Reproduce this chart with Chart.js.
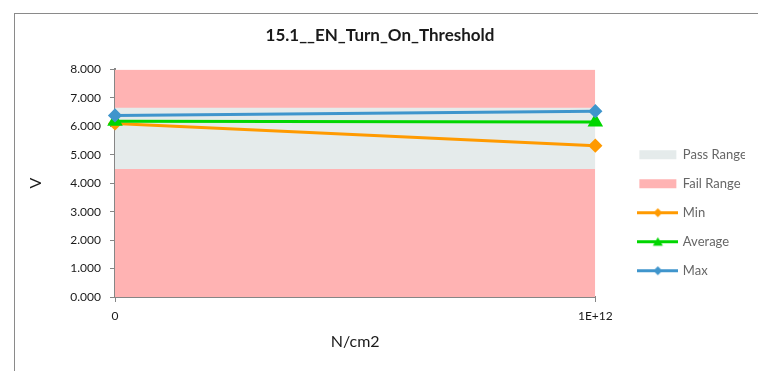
<!DOCTYPE html>
<html>
<head>
<meta charset="utf-8">
<script src="https://cdn.jsdelivr.net/npm/chart.js@4.4.1/dist/chart.umd.min.js"></script>
<style>
  body { margin: 0; background: #fff; }
  #frame { position: absolute; left: 14px; top: 13px; width: 744px; height: 358px;
           border-left: 1px solid #8a8a8a; border-top: 1px solid #8a8a8a; }
  canvas { display: block; }
</style>
</head>
<body>
<div id="frame"><canvas id="chart" width="743" height="357"></canvas></div>
<script>
// values
var xLabels = ['0', '1E+12'];
var minValues = [6.10, 5.32];
var avgValues = [6.18, 6.15];
var maxValues = [6.38, 6.53];
var passTop = [6.65, 6.65];
var passBottom = 4.5;
var failTop = [8, 8];

var passColor = '#e5ebeb';
var failColor = '#ffb3b3';
var minColor = '#ff9a00';
var avgColor = '#00d600';
var maxColor = '#3f95cc';
var font = 'Lato';

// small canvases used as legend markers
function swatch(kind, color) {
  var c = document.createElement('canvas');
  c.width = 41; c.height = 11;
  var g = c.getContext('2d');
  g.fillStyle = color;
  if (kind === 'box') {
    g.fillRect(2, 1, 37, 9);
    return c;
  }
  g.strokeStyle = color;
  g.lineWidth = 3;
  g.beginPath(); g.moveTo(0, 5.5); g.lineTo(41, 5.5); g.stroke();
  g.beginPath();
  if (kind === 'diamond') {
    g.moveTo(20.5, 1); g.lineTo(25, 5.5); g.lineTo(20.5, 10); g.lineTo(16, 5.5);
  } else {
    g.moveTo(20.5, 1); g.lineTo(25.5, 9.5); g.lineTo(15.5, 9.5);
  }
  g.closePath(); g.fill();
  return c;
}

var legendEntries = [
  { text: 'Pass Range', kind: 'box', color: passColor, ds: 3 },
  { text: 'Fail Range', kind: 'box', color: failColor, ds: 4 },
  { text: 'Min', kind: 'diamond', color: minColor, ds: 2 },
  { text: 'Average', kind: 'triangle', color: avgColor, ds: 1 },
  { text: 'Max', kind: 'diamond', color: maxColor, ds: 0 }
];

var ctx = document.getElementById('chart').getContext('2d');
var chart = new Chart(ctx, {
  type: 'line',
  data: {
    labels: xLabels,
    datasets: [
      { label: 'Max', data: maxValues, borderColor: maxColor, backgroundColor: maxColor,
        borderWidth: 3, pointStyle: 'rectRot', pointRadius: 5, fill: false, order: 1 },
      { label: 'Average', data: avgValues, borderColor: avgColor, backgroundColor: avgColor,
        borderWidth: 3, pointStyle: 'triangle', pointRadius: 6, fill: false, order: 2 },
      { label: 'Min', data: minValues, borderColor: minColor, backgroundColor: minColor,
        borderWidth: 3, pointStyle: 'rectRot', pointRadius: 5, fill: false, order: 3 },
      { label: 'Pass Range', data: passTop, backgroundColor: passColor, borderWidth: 0,
        pointRadius: 0, fill: { value: passBottom }, order: 4 },
      { label: 'Fail Range', data: failTop, backgroundColor: failColor, borderWidth: 0,
        pointRadius: 0, fill: 'origin', order: 5 }
    ]
  },
  options: {
    responsive: false,
    animation: false,
    layout: { padding: { right: 13 } },
    plugins: {
      title: {
        display: true,
        text: '15.1__EN_Turn_On_Threshold',
        color: '#1a1a1a',
        font: { family: font, size: 17, weight: 'bold' },
        padding: { top: 11, bottom: 24 }
      },
      legend: {
        position: 'right',
        onClick: null,
        // empty title, only pushes the entries down a little
        title: { display: true, text: '', font: { size: 12 }, padding: { top: 0, bottom: 26 } },
        labels: {
          usePointStyle: true,
          pointStyleWidth: 37,
          padding: 16,
          color: '#1a1a1a',
          font: { family: font, size: 13 },
          generateLabels: function () {
            return legendEntries.map(function (e) {
              return { text: e.text, pointStyle: swatch(e.kind, e.color), fillStyle: e.color,
                       strokeStyle: e.color, lineWidth: 0, hidden: false, datasetIndex: e.ds };
            });
          }
        }
      },
      tooltip: { enabled: false }
    },
    scales: {
      x: {
        type: 'category',
        offset: false,
        z: 1,
        grid: { drawOnChartArea: false, tickLength: 5, color: '#868686' },
        border: { color: '#868686', width: 2 },
        ticks: { color: '#1a1a1a', font: { family: font, size: 12 }, padding: 7, maxRotation: 0 },
        title: { display: true, text: 'N/cm2', color: '#1a1a1a', font: { family: font, size: 16 },
                 padding: { top: 4, bottom: 20 } },
        afterFit: function (s) { s.height = 74; }
      },
      y: {
        min: 0,
        max: 8,
        z: 1,
        grid: { drawOnChartArea: false, tickLength: 5, color: '#868686' },
        border: { color: '#868686', width: 2 },
        ticks: { stepSize: 1, color: '#1a1a1a', font: { family: font, size: 12 }, padding: 9,
                 callback: function (v) { return v.toFixed(3); } },
        title: { display: true, text: 'V', color: '#1a1a1a', font: { family: font, size: 16 },
                 padding: { top: 11, bottom: 0 } },
        afterFit: function (s) { s.width = 100; }
      },
      // empty axis, only keeps the legend away from the plot
      gap: {
        position: 'right',
        grid: { display: false },
        border: { display: false },
        ticks: { display: false },
        afterFit: function (s) { s.width = 28; }
      }
    }
  }
});
</script>
</body>
</html>
